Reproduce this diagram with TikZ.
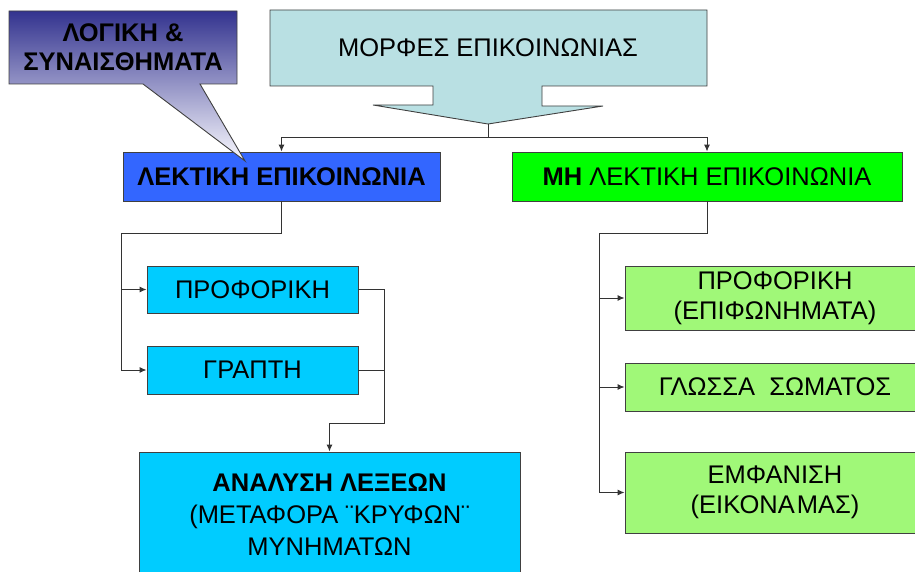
\documentclass[tikz,border=0pt]{standalone}
\usepackage{fontspec}
\setmainfont{Liberation Sans}
\usetikzlibrary{arrows.meta}
\definecolor{edge}{HTML}{404040}
\definecolor{headfill}{HTML}{B9E0E3}
\definecolor{verbal}{HTML}{3366FF}
\definecolor{nonverbal}{HTML}{00FF00}
\definecolor{subverbal}{HTML}{00CCFF}
\definecolor{subnon}{HTML}{A0F878}
\definecolor{calltop}{HTML}{33338F}
\definecolor{callbot}{HTML}{FAFAFF}
\newcommand{\bigtext}{\fontsize{25.5}{30}\selectfont}
\tikzset{
  box/.style={draw=edge, line width=0.9pt, inner sep=0pt, align=center,
    font=\bigtext},
  link/.style={draw=black!80, line width=1pt},
  arr/.style={link, -{Latex[length=7pt,width=6pt]}},
}
\begin{document}
\begin{tikzpicture}[x=1pt,y=-1pt]
\useasboundingbox (0,0) rectangle (915,572);
\clip (0,0) rectangle (915,572);

% heading arrow-callout
\path[draw=edge, line width=0.9pt, fill=headfill]
  (270,10) -- (707,10) -- (707,86) -- (542,86) -- (542,106) -- (603,106)
  -- (488,124) -- (373,105) -- (433,105) -- (433,86) -- (270,86) -- cycle;
\node[font=\bigtext] (head) at (488,48) {ΜΟΡΦΕΣ ΕΠΙΚΟΙΝΩΝΙΑΣ};
\coordinate (tip) at (488,124);
\coordinate (split) at (488,138);

% second level
\node[box, fill=verbal, minimum width=317pt, minimum height=49pt,
  font=\bfseries\bigtext] (lek) at (281.5,176.5) {ΛΕΚΤΙΚΗ ΕΠΙΚΟΙΝΩΝΙΑ};
\node[box, fill=nonverbal, minimum width=390pt, minimum height=49pt] (mh) at (707,176.5)
  {\textbf{ΜΗ} ΛΕΚΤΙΚΗ ΕΠΙΚΟΙΝΩΝΙΑ};

% verbal branch
\node[box, fill=subverbal, minimum width=211pt, minimum height=47pt] (proph) at (252.5,289.5) {ΠΡΟΦΟΡΙΚΗ};
\node[box, fill=subverbal, minimum width=211pt, minimum height=48pt] (graph) at (252.5,370) {ΓΡΑΠΤΗ};
\node[box, fill=subverbal, minimum width=381pt, minimum height=126pt,
  font=\fontsize{25.5}{32}\selectfont] (anal) at (329.5,515)
  {\textbf{ΑΝΑΛΥΣΗ ΛΕΞΕΩΝ}\\(ΜΕΤΑΦΟΡΑ ¨ΚΡΥΦΩΝ¨\\ΜΥΝΗΜΑΤΩΝ};

% non-verbal branch
\node[box, fill=subnon, minimum width=300pt, minimum height=64pt] (g1) at (775,298) {ΠΡΟΦΟΡΙΚΗ\\(ΕΠΙΦΩΝΗΜΑΤΑ)};
\node[box, fill=subnon, minimum width=300pt, minimum height=48pt] (g2) at (775,387) {ΓΛΩΣΣΑ\ \ ΣΩΜΑΤΟΣ};
\node[box, fill=subnon, minimum width=300pt, minimum height=81pt] (g3) at (775,492.5) {ΕΜΦΑΝΙΣΗ\\(ΕΙΚΟΝΑ\hspace{2pt}ΜΑΣ)};

% connectors
\coordinate (lsplit) at (121,233);
\coordinate (rsplit) at (599,233);
\coordinate (rjoin) at (384,423);
\draw[link] (tip) -- (split);
\draw[arr] (split) -| (lek.north);
\draw[arr] (split) -| (mh.north);
\draw[link] (lek.south) |- (lsplit);
\draw[arr] (lsplit) |- (proph.west);
\draw[arr] (lsplit) |- (graph.west);
\draw[arr] (proph.east) -| (rjoin) -| (anal.north);
\draw[link] (graph.east) -- (graph.east -| rjoin);
\draw[link] (mh.south) |- (rsplit);
\draw[arr] (rsplit) |- (g1.west);
\draw[arr] (rsplit) |- (g2.west);
\draw[arr] (rsplit) |- (g3.west);

% callout with pointer
\path[draw=edge, line width=0.9pt, top color=calltop, bottom color=callbot]
  (9,11) -- (237,11) -- (237,84) -- (200,84) -- (245,161) -- (143,84) -- (9,84) -- cycle;
\node[align=center, font=\bfseries\fontsize{25.5}{29}\selectfont] (feel) at (123,47)
  {ΛΟΓΙΚΗ \&\\ΣΥΝΑΙΣΘΗΜΑΤΑ};
\end{tikzpicture}
\end{document}
